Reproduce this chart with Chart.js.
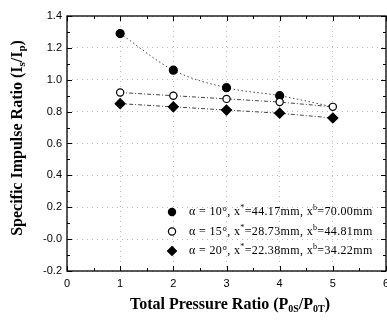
<!DOCTYPE html>
<html>
<head>
<meta charset="utf-8">
<script src="https://cdn.jsdelivr.net/npm/chart.js@4/dist/chart.umd.min.js"></script>
<style>
    html, body { margin: 0; padding: 0; background: #fff; overflow: hidden; }
    #wrap { width: 400px; height: 320px; }
</style>
</head>
<body>
<div id="wrap"><canvas id="impulse-chart"></canvas></div>
<script>
const pressureRatio = [1, 2, 3, 4, 5];
const ratioAlpha10 = [1.29, 1.06, 0.95, 0.90, 0.83];
const ratioAlpha15 = [0.92, 0.90, 0.88, 0.86, 0.83];
const ratioAlpha20 = [0.85, 0.83, 0.81, 0.79, 0.76];
const xRange = [0, 6];
const yRange = [-0.2, 1.4];
const legendLabels = [
    ['α = 10°, x', '*', '=44.17mm, x', 'b', '=70.00mm'],
    ['α = 15°, x', '*', '=28.73mm, x', 'b', '=44.81mm'],
    ['α = 20°, x', '*', '=22.38mm, x', 'b', '=34.22mm']
];

const serif = '"Liberation Serif", "DejaVu Serif", serif';
const sans = '"Liberation Sans", Arial, sans-serif';

function toPoints(ys) {
    return pressureRatio.map((x, i) => ({ x: x, y: ys[i] }));
}

function drawMarker(ctx, style, x, y) {
    ctx.save();
    ctx.lineWidth = 1.2;
    ctx.strokeStyle = '#000';
    ctx.beginPath();
    if (style === 'diamond') {
        const r = 4.5;
        ctx.moveTo(x, y - r);
        ctx.lineTo(x + r, y);
        ctx.lineTo(x, y + r);
        ctx.lineTo(x - r, y);
        ctx.closePath();
        ctx.fillStyle = '#000';
    } else {
        ctx.arc(x, y, 3.6, 0, Math.PI * 2);
        ctx.fillStyle = style === 'open' ? '#fff' : '#000';
    }
    ctx.fill();
    ctx.stroke();
    ctx.restore();
}

// text with small raised parts at odd indexes
function drawSupText(ctx, parts, x, y) {
    let cx = x;
    ctx.letterSpacing = '0.35px';
    parts.forEach((p, i) => {
        ctx.font = (i % 2 ? '8px ' : '12px ') + serif;
        ctx.fillText(p, cx, i % 2 ? y - 4 : y);
        cx += ctx.measureText(p).width;
    });
    ctx.letterSpacing = '0px';
}

// text with lowered parts at odd indexes
function drawSubText(ctx, parts, size, subSize) {
    let w = 0;
    parts.forEach((p, i) => {
        ctx.font = 'bold ' + (i % 2 ? subSize : size) + 'px ' + serif;
        w += ctx.measureText(p).width;
    });
    let cx = -w / 2;
    parts.forEach((p, i) => {
        ctx.font = 'bold ' + (i % 2 ? subSize : size) + 'px ' + serif;
        ctx.fillText(p, cx, i % 2 ? 4 : 0);
        cx += ctx.measureText(p).width;
    });
}

const framePlugin = {
    id: 'frame',
    afterDraw(chart) {
        const ctx = chart.ctx;
        const a = chart.chartArea;
        const xs = chart.scales.x;
        const ys = chart.scales.y;
        ctx.save();
        ctx.strokeStyle = '#000';
        ctx.lineWidth = 1.3;
        ctx.strokeRect(a.left, a.top, a.right - a.left, a.bottom - a.top);

        // inward ticks, major and half-step minor
        ctx.lineWidth = 1;
        ctx.beginPath();
        for (let v = xRange[0]; v <= xRange[1] + 1e-9; v += 0.5) {
            const px = Math.round(xs.getPixelForValue(v)) + 0.5;
            const len = Number.isInteger(v) ? 5 : 3;
            ctx.moveTo(px, a.bottom);
            ctx.lineTo(px, a.bottom - len);
            ctx.moveTo(px, a.top);
            ctx.lineTo(px, a.top + len);
        }
        for (let k = 0; k <= 16; k++) {
            const v = yRange[0] + k * 0.1;
            const py = Math.round(ys.getPixelForValue(v)) + 0.5;
            const len = k % 2 === 0 ? 5 : 3;
            ctx.moveTo(a.left, py);
            ctx.lineTo(a.left + len, py);
            ctx.moveTo(a.right, py);
            ctx.lineTo(a.right - len, py);
        }
        ctx.stroke();

        // legend inside the plot
        const styles = ['filled', 'open', 'diamond'];
        ctx.fillStyle = '#000';
        ctx.textBaseline = 'middle';
        legendLabels.forEach((parts, i) => {
            const y = 212 + i * 19.5;
            drawMarker(ctx, styles[i], 172, y);
            drawSupText(ctx, parts, 189, y);
        });

        // axis titles
        ctx.textBaseline = 'middle';
        ctx.save();
        ctx.translate(18, 138);
        ctx.rotate(-Math.PI / 2);
        drawSubText(ctx, ['Specific Impulse Ratio (I', 's', '/I', 'p', ')'], 16, 11);
        ctx.restore();
        ctx.save();
        ctx.translate(230, 305);
        drawSubText(ctx, ['Total Pressure Ratio (P', '0S', '/P', '0T', ')'], 16, 10);
        ctx.restore();
        ctx.restore();
    }
};

const lineBase = {
    borderColor: '#444',
    borderWidth: 1,
    pointBorderColor: '#000',
    pointBorderWidth: 1.2,
    fill: false
};

new Chart(document.getElementById('impulse-chart'), {
    type: 'line',
    data: {
        datasets: [
            Object.assign({}, lineBase, {
                label: 'α = 10°',
                data: toPoints(ratioAlpha10),
                borderDash: [1.5, 2.5],
                tension: 0.4,
                cubicInterpolationMode: 'monotone',
                pointStyle: 'circle',
                pointRadius: [4, 4, 4, 4, 0],
                pointBackgroundColor: '#000',
                order: 2
            }),
            Object.assign({}, lineBase, {
                label: 'α = 15°',
                data: toPoints(ratioAlpha15),
                borderDash: [4, 2, 1, 2],
                pointStyle: 'circle',
                pointRadius: 3.6,
                pointBackgroundColor: '#fff',
                order: 1
            }),
            Object.assign({}, lineBase, {
                label: 'α = 20°',
                data: toPoints(ratioAlpha20),
                borderDash: [4, 2, 1, 2],
                pointStyle: 'rectRot',
                pointRadius: 5,
                pointBackgroundColor: '#000',
                order: 3
            })
        ]
    },
    options: {
        responsive: true,
        maintainAspectRatio: false,
        animation: false,
        layout: { padding: { top: 16, right: 14, left: 0, bottom: 0 } },
        plugins: {
            legend: { display: false },
            tooltip: { enabled: false }
        },
        scales: {
            x: {
                type: 'linear',
                min: xRange[0],
                max: xRange[1],
                afterFit: scale => { scale.height = 49; },
                ticks: {
                    stepSize: 1,
                    padding: 6,
                    color: '#000',
                    font: { family: sans, size: 11 }
                },
                grid: { color: '#bbb', drawTicks: false, lineWidth: 1 },
                border: { display: false, dash: [1, 4] }
            },
            y: {
                min: yRange[0],
                max: yRange[1],
                afterFit: scale => { scale.width = 67; },
                ticks: {
                    stepSize: 0.2,
                    padding: 5,
                    color: '#000',
                    font: { family: sans, size: 11 },
                    callback: value => value.toFixed(1)
                },
                grid: { color: '#bbb', drawTicks: false, lineWidth: 1 },
                border: { display: false, dash: [1, 4] }
            }
        }
    },
    plugins: [framePlugin]
});
</script>
</body>
</html>
